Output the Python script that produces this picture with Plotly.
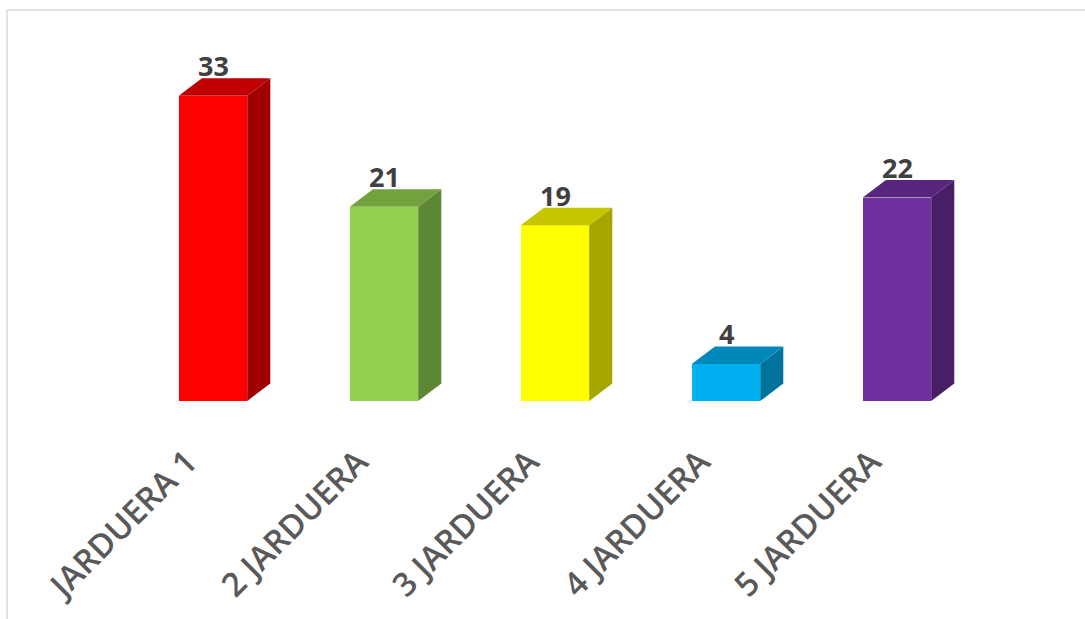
import plotly.graph_objects as go

categories = ["JARDUERA 1", "2 JARDUERA", "3 JARDUERA", "4 JARDUERA", "5 JARDUERA"]
values = [33, 21, 19, 4, 22]
front_colors = ["#FF0000", "#92D050", "#FFFF00", "#00B0F0", "#7030A0"]
top_colors = ["#C00000", "#72A23E", "#C6C600", "#0088BA", "#57257C"]
side_colors = ["#A00000", "#5D8733", "#A6A600", "#00729C", "#481F67"]

BAR_W = 0.4
DX = 0.135
DY = 1.9
LABEL_OFFSET = -0.15

fig = go.Figure()
xs = list(range(len(categories)))

for i, v in zip(xs, values):
    x0, x1 = i - BAR_W / 2, i + BAR_W / 2
    # side face
    fig.add_trace(go.Scatter(
        x=[x1, x1 + DX, x1 + DX, x1, x1],
        y=[0, DY, v + DY, v, 0],
        fill="toself", fillcolor=side_colors[i], mode="lines",
        line=dict(width=0, color=side_colors[i]), hoverinfo="skip", showlegend=False))
    # top face
    fig.add_trace(go.Scatter(
        x=[x0, x1, x1 + DX, x0 + DX, x0],
        y=[v, v, v + DY, v + DY, v],
        fill="toself", fillcolor=top_colors[i], mode="lines",
        line=dict(width=0, color=top_colors[i]), hoverinfo="skip", showlegend=False))

fig.add_trace(go.Bar(
    x=xs, y=values, width=BAR_W,
    marker=dict(color=front_colors, line=dict(width=0)),
    hoverinfo="skip", showlegend=False))

for i, v in zip(xs, values):
    fig.add_annotation(x=i, y=v + DY, text=str(v), showarrow=False,
                       yanchor="bottom", xanchor="center", yshift=-8,
                       font=dict(family="Open Sans", size=27, color="#404040", weight="bold"))

fig.update_xaxes(
    range=[-1.2047, 5.0994], tickvals=[x + LABEL_OFFSET for x in xs], ticktext=categories,
    tickangle=-45, showgrid=False, zeroline=False, showline=False, ticks="",
    tickfont=dict(family="Open Sans", size=33, color="#595959", weight=600),
    ticklabelstandoff=34, fixedrange=True)
fig.update_yaxes(range=[0, 42.27], visible=False, showgrid=False, zeroline=False, fixedrange=True)

fig.add_shape(type="line", xref="paper", yref="paper", x0=0, x1=1.01, y0=1, y1=1,
              line=dict(color="#D9D9D9", width=1.5))
fig.add_shape(type="line", xref="paper", yref="paper", x0=0, x1=0, y0=1, y1=-0.6,
              line=dict(color="#D9D9D9", width=1.5))

fig.update_layout(
    width=1085, height=619, autosize=False,
    margin=dict(l=7, r=0, t=10, b=218, pad=0),
    plot_bgcolor="white", paper_bgcolor="white",
    bargap=0, showlegend=False)

fig.write_html("out.html", post_script="document.body.style.margin='0';",
               config={"displayModeBar": False})
